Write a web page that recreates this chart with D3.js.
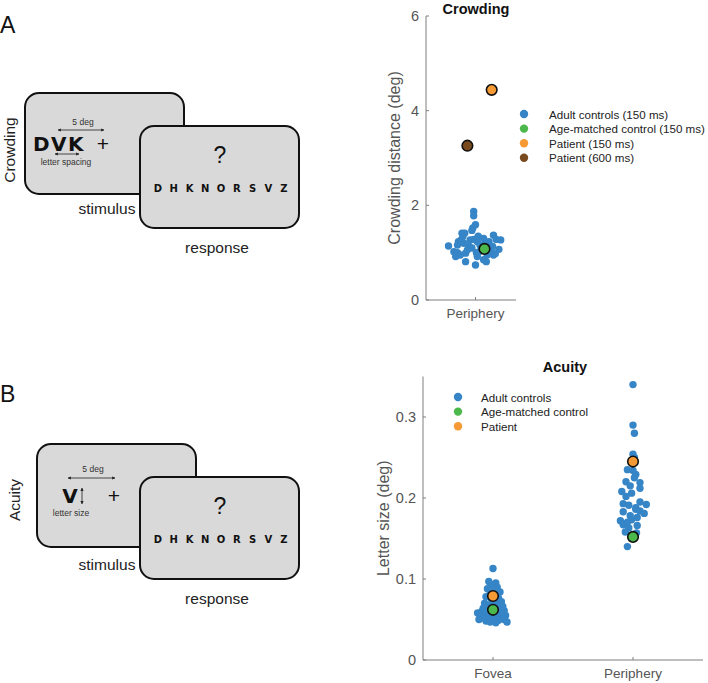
<!DOCTYPE html>
<html>
<head>
<meta charset="utf-8">
<script src="https://cdn.jsdelivr.net/npm/d3@7"></script>
<style>
  body { margin: 0; background: #fff; }
  text { font-family: "Liberation Sans", Arial, sans-serif; }
</style>
</head>
<body>
<div id="chart"></div>
<script>
// ---- data ----
// crowding (deg), jitter offset in category units
var crowdJitter = [-0.02,-0.02,0.00,-0.03,-0.04,-0.15,-0.14,0.20,0.23,0.28,-0.19,-0.20,-0.30,-0.06,-0.02,0.02,0.05,-0.07,0.09,0.15,0.19,0.26,-0.20,-0.17,-0.22,-0.11,-0.11,0.02,0.04,0.09,0.13,0.20,0.00,0.12,-0.13,-0.09,0.07,0.17,-0.16,0.11,-0.04,0.03,-0.12,0.22,-0.24,0.01];
var crowdValues = [1.87,1.78,1.59,1.52,1.47,1.41,1.34,1.37,1.28,1.27,1.23,1.16,1.14,1.27,1.28,1.23,1.16,1.13,1.30,1.23,1.13,1.07,1.00,0.95,0.92,0.99,0.81,0.92,1.02,0.85,0.95,0.95,0.74,0.81,1.20,1.06,1.08,1.03,1.27,1.18,1.10,1.35,1.41,0.98,1.02,1.00];
var crowdSpecial = [
  {name: "Age-matched control (150 ms)", jitter: 0.10, value: 1.08, color: "#4cb84c"},
  {name: "Patient (150 ms)", jitter: 0.18, value: 4.44, color: "#f59a35"},
  {name: "Patient (600 ms)", jitter: -0.09, value: 3.26, color: "#7a4a1f"}
];
var crowdLegend = ["Adult controls (150 ms)", "Age-matched control (150 ms)", "Patient (150 ms)", "Patient (600 ms)"];
var crowdTicks = [0, 2, 4, 6];

// acuity (deg)
var foveaJitter = [0.00,-0.03,0.02,-0.01,0.03,-0.04,0.01,0.05,-0.02,0.03,-0.05,0.04,-0.01,0.06,-0.06,0.02,-0.03,0.07,-0.07,0.04,-0.02,0.08,-0.08,0.05,-0.11,0.01,-0.05,0.09,-0.09,0.03,0.06,-0.03,-0.07,0.00,0.08,-0.10,0.04,-0.05,0.10,0.02,-0.02,0.07,-0.04,0.01];
var foveaValues = [0.113,0.097,0.095,0.093,0.090,0.088,0.086,0.084,0.082,0.080,0.078,0.076,0.074,0.072,0.070,0.068,0.067,0.066,0.064,0.063,0.062,0.061,0.060,0.059,0.058,0.057,0.056,0.055,0.055,0.054,0.053,0.053,0.052,0.051,0.050,0.050,0.049,0.048,0.047,0.046,0.047,0.058,0.065,0.070];
var periJitter = [0.00,0.00,0.01,0.00,0.01,-0.04,0.00,0.02,-0.05,0.05,-0.02,0.05,-0.08,-0.01,-0.05,0.05,0.095,-0.07,-0.03,0.02,0.02,-0.07,0.05,0.08,-0.02,0.03,-0.09,-0.04,-0.01,-0.07,0.03,-0.03,-0.055,0.025,-0.04,0.01];
var periValues = [0.340,0.290,0.280,0.254,0.250,0.235,0.234,0.229,0.220,0.219,0.215,0.212,0.208,0.206,0.202,0.195,0.192,0.193,0.191,0.188,0.186,0.183,0.184,0.181,0.178,0.176,0.172,0.170,0.173,0.167,0.166,0.163,0.158,0.157,0.140,0.225];
var acuitySpecial = [
  {name: "Age-matched control", cat: 1, value: 0.062, color: "#4cb84c"},
  {name: "Age-matched control", cat: 2, value: 0.152, color: "#4cb84c"},
  {name: "Patient", cat: 1, value: 0.079, color: "#f59a35"},
  {name: "Patient", cat: 2, value: 0.245, color: "#f59a35"}
];
var acuityLegend = ["Adult controls", "Age-matched control", "Patient"];
var acuityTicks = [0, 0.1, 0.2, 0.3];
var acuityCats = ["Fovea", "Periphery"];

// response screen letters
var responseLetters = ["D", "H", "K", "N", "O", "R", "S", "V", "Z"];

var legendColors = ["#3585c7", "#4cb84c", "#f59a35", "#7a4a1f"];
var blue = "#3585c7";
var axisGray = "#7f7f7f";

var svg = d3.select("#chart").append("svg")
    .attr("width", 708)
    .attr("height", 683);

// ---- helper: stimulus diagram ----
var arrowId = 0;
function arrow(g, x1, y1, x2, y2) {
    var id = "ah" + (arrowId++);
    var m = svg.append("defs").append("marker")
        .attr("id", id)
        .attr("viewBox", "0 0 10 10")
        .attr("refX", 9).attr("refY", 5)
        .attr("markerWidth", 4).attr("markerHeight", 4)
        .attr("orient", "auto-start-reverse");
    m.append("path").attr("d", "M0,0 L10,5 L0,10 z").attr("fill", "#222");
    g.append("line")
        .attr("x1", x1).attr("y1", y1).attr("x2", x2).attr("y2", y2)
        .attr("stroke", "#222").attr("stroke-width", 0.8)
        .attr("marker-start", "url(#" + id + ")")
        .attr("marker-end", "url(#" + id + ")");
}

function box(g, x, y, w, h) {
    g.append("rect")
        .attr("x", x).attr("y", y).attr("width", w).attr("height", h)
        .attr("rx", 14).attr("ry", 14)
        .attr("fill", "#d9d9d9")
        .attr("stroke", "#111").attr("stroke-width", 2);
}

function responseBox(g, x, y) {
    box(g, x, y, 159, 102);
    g.append("text").attr("x", x + 80).attr("y", y + 37)
        .attr("text-anchor", "middle").style("font-size", "23px").style("fill", "#111")
        .text("?");
    var lx = d3.scaleLinear().domain([0, responseLetters.length - 1]).range([x + 18, x + 144]);
    g.selectAll(null)
        .data(responseLetters)
        .enter().append("text")
        .attr("x", function(d, i) { return lx(i); })
        .attr("y", y + 66)
        .attr("text-anchor", "middle")
        .style("font-family", "DejaVu Sans").style("font-weight", "bold")
        .style("font-size", "10px").style("fill", "#111")
        .text(function(d) { return d; });
    g.append("text").attr("x", x + 77).attr("y", y + 127)
        .attr("text-anchor", "middle").style("font-size", "15.5px").style("fill", "#222")
        .text("response");
}

// Panel A diagram
var dA = svg.append("g");
dA.append("text").attr("x", 0).attr("y", 33).style("font-size", "23px").style("fill", "#111").text("A");
dA.append("text")
    .attr("transform", "translate(15,150) rotate(-90)")
    .attr("text-anchor", "middle").style("font-size", "15.5px").style("fill", "#222")
    .text("Crowding");
box(dA, 25, 93, 159, 101);
dA.append("text").attr("x", 83).attr("y", 125).attr("text-anchor", "middle")
    .style("font-size", "8.5px").style("fill", "#333").text("5 deg");
arrow(dA, 58, 130, 104, 130);
dA.append("text").attr("x", 33).attr("y", 151)
    .style("font-family", "DejaVu Sans").style("font-weight", "bold")
    .style("font-size", "20px").style("letter-spacing", "1.5px").style("fill", "#111")
    .text("DVK");
dA.append("text").attr("x", 103).attr("y", 151).attr("text-anchor", "middle")
    .style("font-size", "21px").style("fill", "#111").text("+");
arrow(dA, 55, 154, 79, 154);
dA.append("text").attr("x", 66).attr("y", 165).attr("text-anchor", "middle")
    .style("font-size", "8.5px").style("fill", "#333").text("letter spacing");
dA.append("text").attr("x", 107).attr("y", 214).attr("text-anchor", "middle")
    .style("font-size", "15.5px").style("fill", "#222").text("stimulus");
responseBox(dA, 140, 126);

// Panel B diagram
var dB = svg.append("g");
dB.append("text").attr("x", 0).attr("y", 402).style("font-size", "23px").style("fill", "#111").text("B");
dB.append("text")
    .attr("transform", "translate(20,500) rotate(-90)")
    .attr("text-anchor", "middle").style("font-size", "15.5px").style("fill", "#222")
    .text("Acuity");
box(dB, 37, 444, 159, 103);
dB.append("text").attr("x", 93).attr("y", 472).attr("text-anchor", "middle")
    .style("font-size", "8.5px").style("fill", "#333").text("5 deg");
arrow(dB, 68, 478, 115, 478);
dB.append("text").attr("x", 70).attr("y", 503).attr("text-anchor", "middle")
    .style("font-family", "DejaVu Sans").style("font-weight", "bold")
    .style("font-size", "20px").style("fill", "#111").text("V");
arrow(dB, 82, 488, 82, 504);
dB.append("text").attr("x", 114).attr("y", 503).attr("text-anchor", "middle")
    .style("font-size", "21px").style("fill", "#111").text("+");
dB.append("text").attr("x", 71).attr("y", 516).attr("text-anchor", "middle")
    .style("font-size", "8.5px").style("fill", "#333").text("letter size");
dB.append("text").attr("x", 107).attr("y", 570).attr("text-anchor", "middle")
    .style("font-size", "15.5px").style("fill", "#222").text("stimulus");
responseBox(dB, 140, 477);

// ---- helper: axes in MATLAB style ----
function drawAxes(g, x, y, yTicks, yFmt, xTicks, xLabels, yLabel, title, titleX, titleY, labelX) {
    var x0 = x.range()[0], x1 = x.range()[1];
    var y0 = y.range()[0], y1 = y.range()[1];
    g.append("line").attr("x1", x0).attr("x2", x0).attr("y1", y0).attr("y2", y1)
        .attr("stroke", axisGray).attr("stroke-width", 1);
    g.append("line").attr("x1", x0).attr("x2", x1).attr("y1", y0).attr("y2", y0)
        .attr("stroke", axisGray).attr("stroke-width", 1);
    yTicks.forEach(function(t) {
        g.append("line").attr("x1", x0).attr("x2", x0 + 3).attr("y1", y(t)).attr("y2", y(t))
            .attr("stroke", axisGray);
        g.append("text").attr("x", x0 - 7).attr("y", y(t) + 5)
            .attr("text-anchor", "end").style("font-size", "14.5px").style("fill", "#555")
            .text(yFmt(t));
    });
    xTicks.forEach(function(t, i) {
        g.append("line").attr("x1", x(t)).attr("x2", x(t)).attr("y1", y0).attr("y2", y0 - 3)
            .attr("stroke", axisGray);
        g.append("text").attr("x", x(t)).attr("y", y0 + 18)
            .attr("text-anchor", "middle").style("font-size", "13.5px").style("fill", "#555")
            .text(xLabels[i]);
    });
    g.append("text")
        .attr("transform", "translate(" + labelX + "," + ((y0 + y1) / 2) + ") rotate(-90)")
        .attr("text-anchor", "middle").style("font-size", "16px").style("fill", "#555")
        .text(yLabel);
    g.append("text").attr("x", titleX).attr("y", titleY)
        .attr("text-anchor", "middle").style("font-size", "14.5px").style("font-weight", "bold")
        .style("fill", "#111").text(title);
}

function legend(g, names, lx, ly, dy, tx) {
    names.forEach(function(n, i) {
        g.append("circle").attr("cx", lx).attr("cy", ly + i * dy).attr("r", 4.2)
            .attr("fill", legendColors[i]);
        g.append("text").attr("x", tx).attr("y", ly + i * dy + 4.5)
            .style("font-size", "11.6px").style("fill", "#222").text(n);
    });
}

// ---- Crowding chart ----
var gc = svg.append("g");
var xc = d3.scaleLinear().domain([0.45, 1.45]).range([426, 516]);
var yc = d3.scaleLinear().domain([0, 6]).range([300, 16]);
drawAxes(gc, xc, yc, crowdTicks, d3.format("d"), [1], ["Periphery"],
    "Crowding distance (deg)", "Crowding", 476, 14, 400);

gc.selectAll("circle.ctrl")
    .data(crowdValues)
    .enter().append("circle")
    .attr("class", "ctrl")
    .attr("cx", function(d, i) { return xc(1 + crowdJitter[i]); })
    .attr("cy", function(d) { return yc(d); })
    .attr("r", 3.7)
    .attr("fill", blue);
gc.selectAll("circle.spec")
    .data(crowdSpecial)
    .enter().append("circle")
    .attr("class", "spec")
    .attr("cx", function(d) { return xc(1 + d.jitter); })
    .attr("cy", function(d) { return yc(d.value); })
    .attr("r", 5.3)
    .attr("fill", function(d) { return d.color; })
    .attr("stroke", "#111").attr("stroke-width", 1.6);
legend(gc, crowdLegend, 524, 114, 14.6, 549);

// ---- Acuity chart ----
var ga = svg.append("g");
var xa = d3.scaleLinear().domain([0.5, 2.5]).range([423, 703]);
var ya = d3.scaleLinear().domain([0, 0.35]).range([660, 376.5]);
drawAxes(ga, xa, ya, acuityTicks, function(t) { return t === 0 ? "0" : d3.format(".1f")(t); },
    [1, 2], acuityCats, "Letter size (deg)", "Acuity", 565, 372, 389);

ga.selectAll("circle.fov")
    .data(foveaValues)
    .enter().append("circle")
    .attr("class", "fov")
    .attr("cx", function(d, i) { return xa(1 + foveaJitter[i]); })
    .attr("cy", function(d) { return ya(d); })
    .attr("r", 3.7)
    .attr("fill", blue);
ga.selectAll("circle.per")
    .data(periValues)
    .enter().append("circle")
    .attr("class", "per")
    .attr("cx", function(d, i) { return xa(2 + periJitter[i]); })
    .attr("cy", function(d) { return ya(d); })
    .attr("r", 3.7)
    .attr("fill", blue);
ga.selectAll("circle.spec")
    .data(acuitySpecial)
    .enter().append("circle")
    .attr("class", "spec")
    .attr("cx", function(d) { return xa(d.cat); })
    .attr("cy", function(d) { return ya(d.value); })
    .attr("r", 5.3)
    .attr("fill", function(d) { return d.color; })
    .attr("stroke", "#111").attr("stroke-width", 1.6);
legend(ga, acuityLegend, 458, 397, 14.6, 481);
</script>
</body>
</html>
